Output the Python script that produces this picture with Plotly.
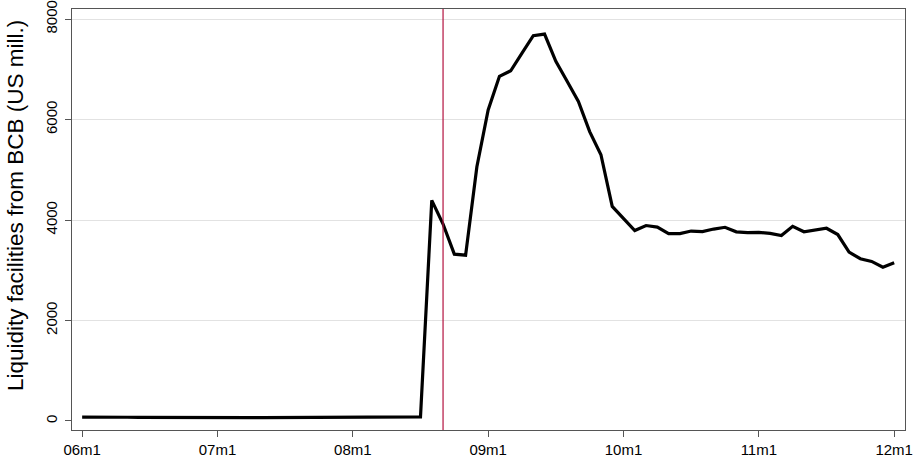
import plotly.graph_objects as go

# Monthly observations 2006m1 .. 2012m1 (month index 0 = 2006m1)
months = list(range(73))
liquidity = [
    75, 78, 78, 76, 74, 72, 70, 68, 66, 65, 64, 64,          # 2006
    64, 65, 66, 67, 68, 70, 72, 75, 72, 70, 70, 72,          # 2007
    73, 74, 75, 76, 78, 80, 82, 4390, 3920, 3320, 3300, 5060,  # 2008
    6190, 6860, 6970, 7320, 7670, 7700, 7160, 6760, 6360, 5760, 5300, 4270,  # 2009
    4040, 3790, 3890, 3860, 3730, 3730, 3780, 3770, 3820, 3855, 3765, 3750,  # 2010
    3755, 3735, 3690, 3875, 3765, 3800, 3835, 3710, 3360, 3230, 3175, 3060,  # 2011
    3150,                                                     # 2012m1
]
tick_months = [0, 12, 24, 36, 48, 60, 72]
tick_labels = ["06m1", "07m1", "08m1", "09m1", "10m1", "11m1", "12m1"]
y_ticks = [0, 2000, 4000, 6000, 8000]
grid_vals = [2000, 4000, 6000, 8000]
event_month = 32  # 2008m9
y_title = "Liquidity facilities from BCB (US mill.)"

yr = [-180, 8200]
xr = [-0.9, 72.96]

W, H = 915, 459
ML, MR, MT, MB = 72, 10, 9, 29

fig = go.Figure()
fig.add_trace(go.Scatter(
    x=months, y=liquidity, mode="lines",
    line=dict(color="black", width=3.2),
    showlegend=False, hoverinfo="skip",
))
fig.add_trace(go.Scatter(x=[months[0]], y=[liquidity[0]], yaxis="y2",
                         mode="markers", marker=dict(opacity=0),
                         showlegend=False, hoverinfo="skip"))

fig.add_shape(type="line", xref="x", yref="paper",
              x0=event_month, x1=event_month, y0=0, y1=1,
              line=dict(color="#b3123f", width=1.2))

font = dict(family="Liberation Sans, Arial, sans-serif", size=15, color="black")
tfont = dict(family="Liberation Sans, Arial, sans-serif", size=22.5, color="black")

pw = W - ML - MR
ph = H - MT - MB
fig.add_annotation(
    text=y_title, textangle=-90, showarrow=False, font=tfont,
    xref="paper", yref="paper",
    x=(15 - ML) / pw, y=(H - MB - 206) / ph,
    xanchor="center", yanchor="middle",
)

fig.update_layout(
    width=W, height=H,
    margin=dict(l=ML, r=MR, t=MT, b=MB),
    paper_bgcolor="white", plot_bgcolor="white",
    font=font,
    xaxis=dict(
        range=xr, tickvals=tick_months, ticktext=tick_labels,
        ticks="outside", ticklen=6, tickcolor="#555", tickwidth=1.2,
        showgrid=False, zeroline=False, automargin=False,
        showline=True, linecolor="#555", linewidth=1.3, mirror=True,
        tickfont=font,
    ),
    yaxis=dict(
        range=yr, tickvals=y_ticks, ticktext=[str(v) for v in y_ticks],
        tickangle=-90, ticklabelstandoff=2,
        ticks="outside", ticklen=6, tickcolor="#555", tickwidth=1.2,
        showgrid=False, zeroline=False, automargin=False,
        showline=True, linecolor="#555", linewidth=1.3, mirror=True,
        tickfont=font,
    ),
    yaxis2=dict(
        range=yr, overlaying="y", tickvals=grid_vals,
        showticklabels=False, ticks="", showgrid=True, automargin=False,
        gridcolor="#e2e2e2", gridwidth=1, zeroline=False, showline=False,
    ),
)

fig.write_html(
    "out.html",
    config={"displayModeBar": False},
    post_script="document.body.style.margin='0';document.body.style.overflow='hidden';",
)
